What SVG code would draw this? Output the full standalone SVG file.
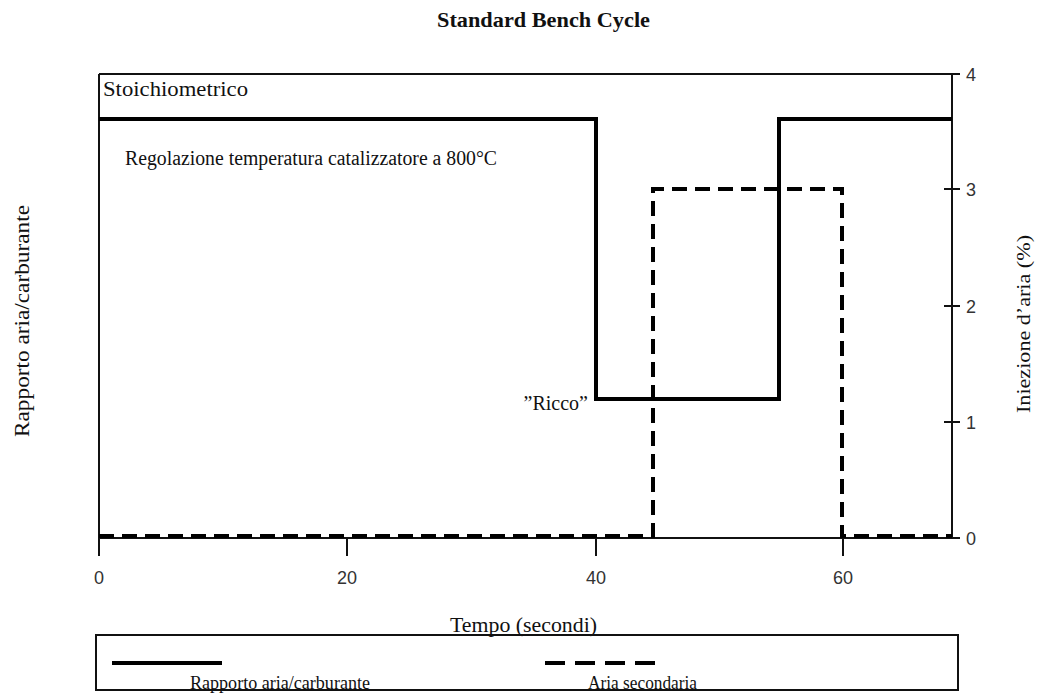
<svg xmlns="http://www.w3.org/2000/svg" width="1037" height="695" viewBox="0 0 1037 695">
<style>
.serif{font-family:"Liberation Serif","Times New Roman",serif;fill:#111}
.sans{font-family:"Liberation Sans",Arial,sans-serif;fill:#333;font-size:18px}
.axis{stroke:#111;stroke-width:2;fill:none}
.solid{stroke:#000;stroke-width:4;fill:none}
.dash{stroke:#000;stroke-width:4;fill:none;stroke-dasharray:15 8}
</style>
<rect width="1037" height="695" fill="#fff"/>
<text class="serif" x="437" y="27" font-size="21" font-weight="bold" textLength="213" lengthAdjust="spacingAndGlyphs">Standard Bench Cycle</text>
<g id="axes">
<path class="axis" d="M99 74H960M99 74V538M952 74V538M99 538H960"/>
<path class="axis" d="M944 189H960M944 306H960M944 422H960M99 538V556M347 538V556M596 538V556M843 538V556"/>
<g class="sans">
<text x="966" y="81">4</text>
<text x="966" y="196">3</text>
<text x="966" y="313">2</text>
<text x="966" y="429">1</text>
<text x="966" y="545">0</text>
<text x="99" y="584" text-anchor="middle">0</text>
<text x="347" y="584" text-anchor="middle">20</text>
<text x="596" y="584" text-anchor="middle">40</text>
<text x="843" y="584" text-anchor="middle">60</text>
</g>
<text class="serif" font-size="20" transform="translate(29 437) rotate(-90)" textLength="232" lengthAdjust="spacingAndGlyphs">Rapporto aria/carburante</text>
<text class="serif" font-size="19" transform="translate(1030 413) rotate(-90)" textLength="178" lengthAdjust="spacingAndGlyphs">Iniezione d’aria (%)</text>
<text class="serif" font-size="20" x="450" y="632" textLength="147" lengthAdjust="spacingAndGlyphs">Tempo (secondi)</text>
</g>
<g id="series">
<path class="solid" d="M99 119H596V399H779V119H952"/>
<path class="dash" d="M99 536H653V189H842V536H952"/>
</g>
<g id="labels">
<text class="serif" font-size="20" x="103" y="96" textLength="145" lengthAdjust="spacingAndGlyphs">Stoichiometrico</text>
<text class="serif" font-size="20" x="125" y="165" textLength="372" lengthAdjust="spacingAndGlyphs">Regolazione temperatura catalizzatore a 800°C</text>
<text class="serif" font-size="20" x="588" y="410" text-anchor="end">”Ricco”</text>
</g>
<g id="legend">
<rect x="96" y="635" width="862" height="55" fill="none" stroke="#111" stroke-width="2"/>
<path class="solid" d="M112 663H222"/>
<path d="M545 663H657" stroke="#000" stroke-width="4" stroke-dasharray="20 10" fill="none"/>
<text class="serif" font-size="19" x="190" y="689" textLength="180" lengthAdjust="spacingAndGlyphs">Rapporto aria/carburante</text>
<text class="serif" font-size="19" x="588" y="689" textLength="109" lengthAdjust="spacingAndGlyphs">Aria secondaria</text>
</g>
</svg>
